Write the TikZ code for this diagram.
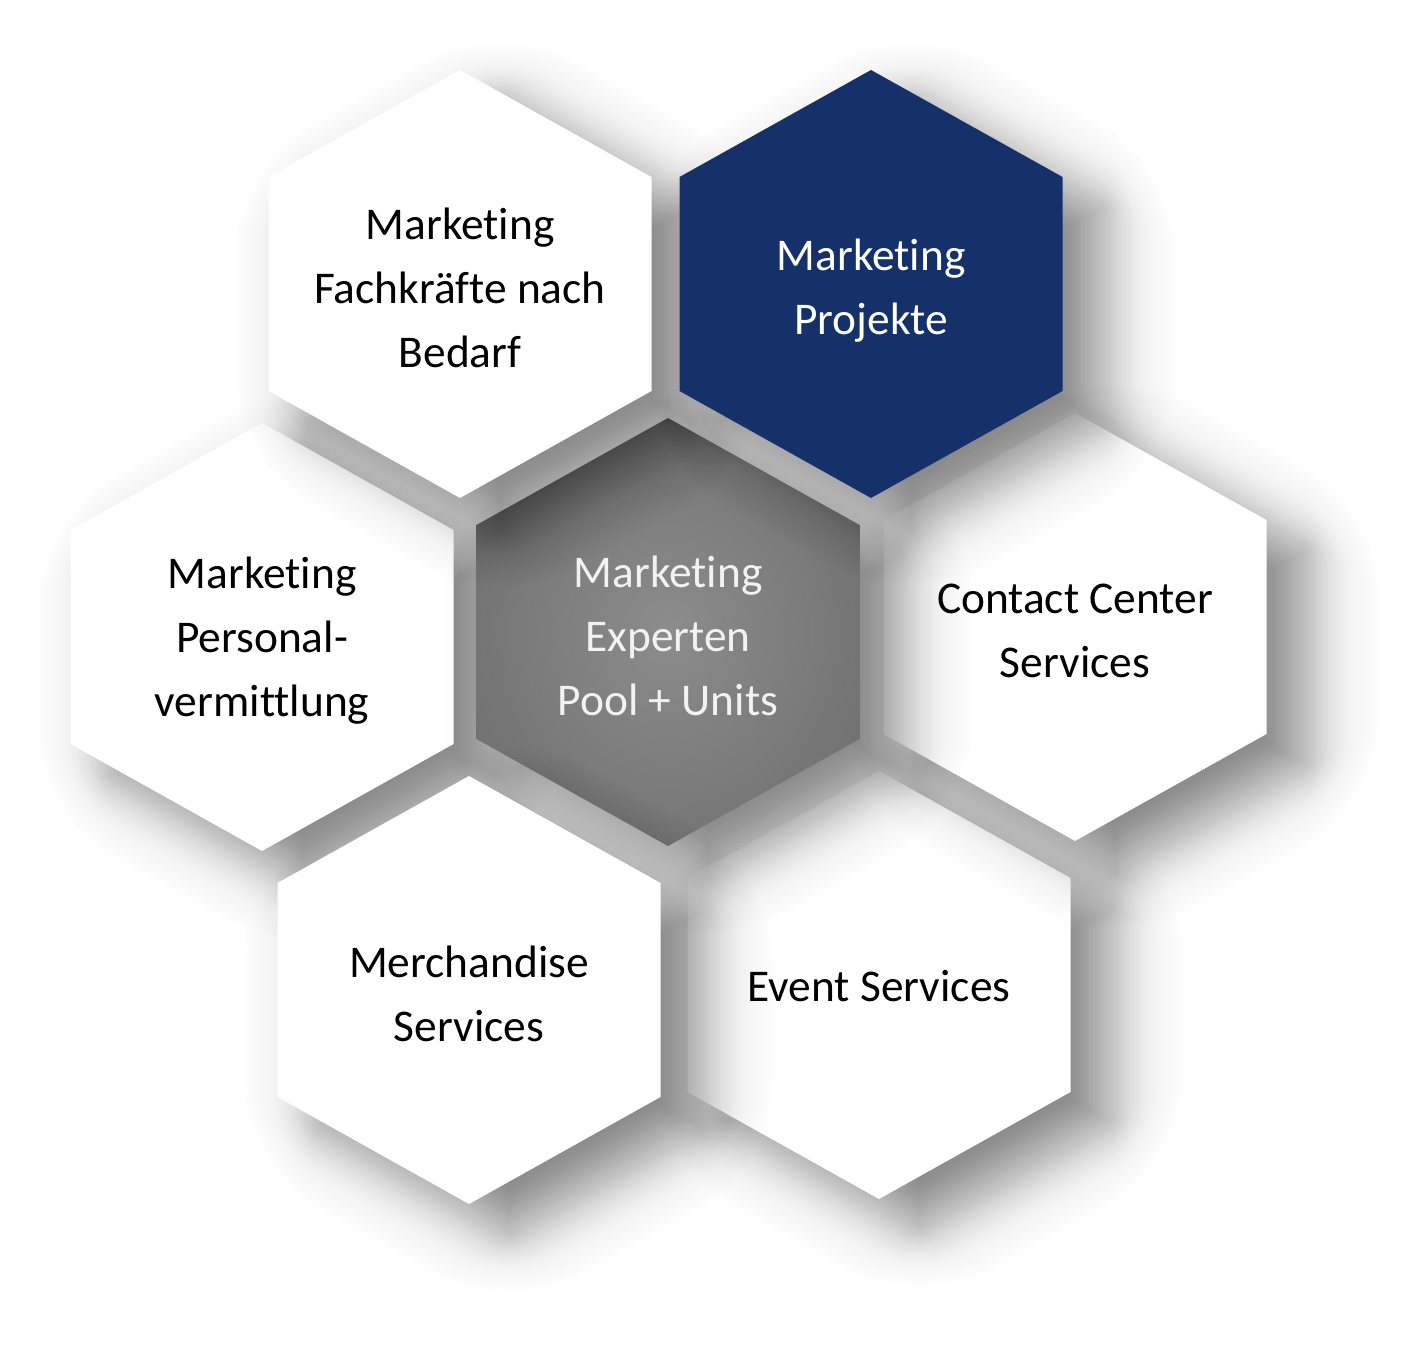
\documentclass[tikz,border=0pt]{standalone}
\usepackage{fontspec}
\setmainfont{Carlito}[Ligatures=NoCommon]
\definecolor{navy}{HTML}{16306A}
\definecolor{hexin}{HTML}{8C8C8C}
\definecolor{hexout}{HTML}{5E5E5E}
\definecolor{lighttext}{HTML}{F2F2F2}
\pgfdeclareradialshading{hexrad}{\pgfpoint{0bp}{0bp}}{color(0bp)=(hexin); color(50bp)=(hexout)}
% #1,#2 centre, #3 half-width, #4 options
\newcommand\hexdo[4]{\path[#4] ({#1-#3},{#2-0.5588*#3}) -- ({#1},{#2-1.1175*#3}) -- ({#1+#3},{#2-0.5588*#3}) -- ({#1+#3},{#2+0.5588*#3}) -- ({#1},{#2+1.1175*#3}) -- ({#1-#3},{#2+0.5588*#3}) -- cycle;}
% soft shadow (layers of low opacity) then the hexagon itself
\newcommand\hexshadowed[3]{%
  \pgfmathsetmacro\sx{#1+40}%
  \pgfmathsetmacro\sy{#2+30}%
  \foreach \s in {111,108,...,-81}{%
    \pgfmathsetmacro\dcur{0.47/(1+exp(1.702*\s/38))}%
    \pgfmathsetmacro\dprv{0.47/(1+exp(1.702*(\s+3)/38))}%
    \pgfmathsetmacro\al{1-(1-\dcur)/(1-\dprv)}%
    \pgfmathsetmacro\hw{191.5+\s}%
    \pgfmathsetmacro\rc{max(\s,0)*0.6}%
    \hexdo{\sx}{\sy}{\hw}{fill=black, fill opacity=\al, rounded corners=\rc pt}%
  }%
  \hexdo{#1}{#2}{191.5}{#3}%
}
\begin{document}
\begin{tikzpicture}[x=0.5pt,y=-0.5pt,
  hextext/.style={font=\fontsize{22.7}{32}\selectfont, align=center, text=black},
]
\useasboundingbox (0,0) rectangle (1408,1347);
\fill[white] (0,0) rectangle (1408,1347);
% hexagons, in stacking order (later shadows fall on earlier shapes)
\hexshadowed{262}{637}{fill=white}
\hexshadowed{879}{985}{fill=white}
\hexshadowed{1075}{627}{fill=white}
\hexshadowed{668}{632}{shading=hexrad}
\hexshadowed{460}{284}{fill=white}
\hexshadowed{871}{284}{fill=navy}
\hexshadowed{469}{990}{fill=white}
% texts
\node[hextext] (fach) at (460,288) {Marketing\\Fachkräfte nach\\Bedarf};
\node[hextext, text=white] (proj) at (871,291) {Marketing\\Projekte};
\node[hextext] (pers) at (262,641) {Marketing\\Personal-\\vermittlung};
\node[hextext, text=lighttext] (pool) at (668,636) {Marketing\\Experten\\Pool + Units};
\node[hextext] (cc) at (1075,631) {Contact Center\\Services};
\node[hextext] (merch) at (469,994) {Merchandise\\Services};
\node[hextext] (event) at (879,986) {Event Services};
\end{tikzpicture}
\end{document}
